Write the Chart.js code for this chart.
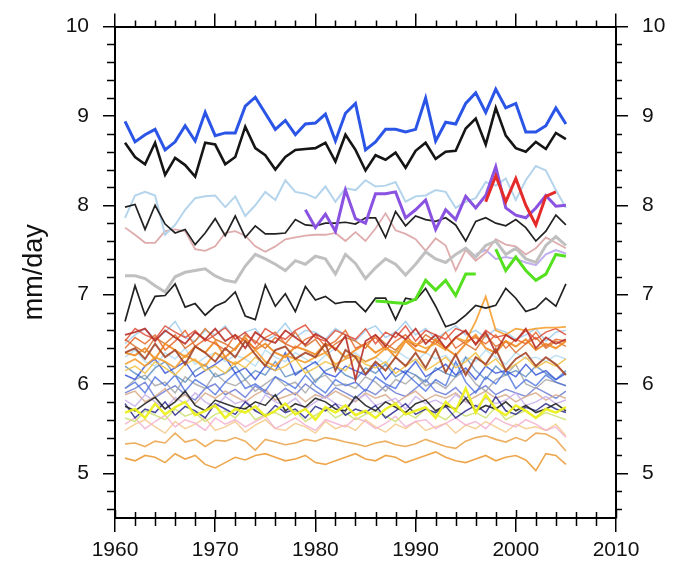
<!DOCTYPE html>
<html><head><meta charset="utf-8">
<script src="https://cdn.jsdelivr.net/npm/chart.js@4/dist/chart.umd.min.js"></script>
<style>html,body{margin:0;padding:0;background:#fff;}canvas{display:block;}</style>
</head><body>
<canvas id="c" width="676" height="567"></canvas>
<script>
// ---------- data (mm/day), years 1961-2005 unless noted ----------
const xTicks = [1960, 1970, 1980, 1990, 2000, 2010];
const yTicks = [5, 6, 7, 8, 9, 10];

const blueTop = [8.94,8.71,8.79,8.85,8.62,8.71,8.89,8.72,9.04,8.78,
 8.81,8.81,9.11,9.21,9.03,8.85,8.95,8.79,8.91,8.92,
 9.02,8.72,9.03,9.14,8.62,8.71,8.85,8.85,8.82,8.85,
 9.20,8.72,8.93,8.91,9.14,9.26,9.04,9.30,9.09,9.14,
 8.82,8.82,8.89,9.09,8.91];
const blackTop = [8.70,8.54,8.46,8.70,8.34,8.53,8.45,8.32,8.70,8.68,
 8.46,8.54,8.88,8.64,8.56,8.40,8.54,8.62,8.63,8.64,
 8.70,8.49,8.79,8.62,8.39,8.56,8.51,8.59,8.42,8.61,
 8.70,8.52,8.60,8.61,8.86,8.97,8.68,9.09,8.78,8.64,
 8.60,8.71,8.63,8.81,8.74];
const lightBlue = [7.86,8.11,8.15,8.11,7.67,7.78,7.95,8.08,8.10,8.11,
 7.98,8.10,7.88,8.00,8.15,8.06,8.28,8.15,8.13,8.08,
 8.21,8.04,8.19,8.17,8.28,8.21,8.22,8.26,8.04,8.10,
 8.11,8.17,8.15,7.97,8.04,8.08,8.26,8.22,8.30,8.06,
 8.28,8.44,8.39,8.17,7.97];
const blackMid = [7.98,8.01,7.73,8.00,7.79,7.69,7.73,7.56,7.69,7.85,
 7.66,7.88,7.64,7.77,7.68,7.68,7.69,7.84,7.78,7.77,
 7.80,7.80,7.81,7.79,7.86,7.86,7.64,7.93,7.77,7.88,
 7.84,7.82,7.86,7.78,7.60,7.82,7.86,7.80,7.77,7.84,
 7.75,7.60,7.71,7.89,7.78];
const pinkRose = [7.75,7.67,7.58,7.58,7.71,7.73,7.71,7.51,7.49,7.54,
 7.69,7.71,7.66,7.54,7.48,7.54,7.62,7.64,7.66,7.67,
 7.67,7.69,7.60,7.70,7.60,7.74,7.91,7.72,7.68,7.62,
 7.49,7.63,7.55,7.27,7.50,7.38,7.47,7.62,7.56,7.54,
 7.45,7.52,7.64,7.58,7.52];
const grayThick = [7.21,7.21,7.18,7.10,7.03,7.20,7.25,7.27,7.29,7.21,
 7.16,7.14,7.32,7.45,7.40,7.34,7.27,7.38,7.34,7.43,
 7.40,7.23,7.45,7.35,7.18,7.30,7.40,7.34,7.22,7.34,
 7.48,7.40,7.36,7.45,7.52,7.42,7.55,7.60,7.45,7.52,
 7.40,7.36,7.55,7.65,7.55];
const blackLow = [6.70,7.10,6.77,6.98,6.99,7.12,6.86,6.90,6.77,6.87,
 6.92,7.03,6.76,6.72,7.11,6.87,7.01,6.81,7.09,6.94,
 6.98,6.90,6.92,6.92,6.81,6.96,6.96,6.72,6.96,6.94,
 7.07,6.87,6.64,6.68,6.77,6.88,6.85,6.88,7.07,6.96,
 6.81,6.85,6.96,6.87,7.12];
// 1979-2005
const purple = [7.95,7.75,7.90,7.71,8.17,7.85,7.80,8.13,8.13,8.15,
 7.86,7.95,8.06,7.73,7.95,7.84,8.10,7.97,8.11,8.43,
 7.97,7.89,7.86,7.97,8.11,7.99,8.00];
// 1997-2004
const red = [8.04,8.33,8.04,8.30,8.00,7.78,8.10,8.15];
// 1986-2005 (gap in 1997)
const green = [6.93,6.92,6.91,6.90,6.95,7.16,7.05,7.16,6.99,7.23,
 7.23,null,7.51,7.27,7.42,7.27,7.16,7.23,7.45,7.43];
// 1996-2005
const lavender = [7.45,7.50,7.40,7.42,7.40,7.36,7.33,7.45,7.50,7.46];

// dense bundle 1961-2005
const darkRed = [6.55,6.58,6.62,6.48,6.60,6.52,6.45,6.58,6.50,6.62,
 6.48,6.55,6.40,6.58,6.50,6.46,6.60,6.52,6.44,6.56,
 6.50,6.38,6.54,6.05,6.48,6.55,6.42,6.58,6.50,6.62,
 6.45,6.55,6.40,6.52,6.60,6.44,6.58,6.35,6.55,6.48,
 6.62,6.40,6.52,6.45,6.50];
const brown = [6.35,6.40,6.28,6.45,6.30,6.38,6.22,6.42,6.35,6.25,
 6.40,6.30,6.48,6.33,6.20,6.38,6.42,6.28,6.35,6.30,
 6.45,6.15,6.38,6.30,6.11,6.25,6.15,6.30,6.20,6.35,
 6.18,6.39,6.13,6.33,6.10,6.30,6.22,6.39,6.15,6.28,
 6.35,6.20,6.30,6.22,6.10];
const redThin = [6.48,6.62,6.55,6.50,6.65,6.58,6.52,6.60,6.48,6.55,
 6.63,6.50,6.58,6.45,6.62,6.55,6.50,6.60,6.66,6.52,
 6.48,6.60,6.55,6.50,6.62,6.45,6.58,6.52,6.65,6.48,
 6.60,6.55,6.50,6.62,6.58,6.45,6.60,6.52,6.55,6.48,
 6.60,6.50,6.58,6.62,6.55];
const orangeRed = [6.40,6.52,6.45,6.55,6.38,6.48,6.60,6.42,6.50,6.45,
 6.38,6.55,6.48,6.40,6.52,6.58,6.45,6.40,6.50,6.55,
 6.42,6.48,6.60,6.40,6.45,6.52,6.38,6.48,6.55,6.42,
 6.50,6.45,6.58,6.40,6.48,6.52,6.45,6.55,6.40,6.50,
 6.45,6.58,6.42,6.50,6.48];
const orange = [6.35,6.32,6.40,6.28,6.45,6.38,6.30,6.42,6.35,6.48,
 6.30,6.40,6.52,6.38,6.45,6.35,6.30,6.42,6.38,6.33,
 6.45,6.40,6.30,6.38,6.45,6.35,6.42,6.30,6.48,6.38,
 6.35,6.50,6.40,6.32,6.45,6.55,6.40,6.35,6.48,6.42,
 6.50,6.38,6.45,6.40,6.48];
const darkOrange = [6.50,6.42,6.35,6.52,6.45,6.55,6.40,6.48,6.62,6.50,
 6.45,6.38,6.55,6.48,6.40,6.52,6.45,6.58,6.42,6.50,
 6.35,6.45,6.52,6.48,6.40,6.55,6.45,6.38,6.50,6.42,
 6.55,6.48,6.40,6.52,6.45,6.38,6.55,6.42,6.48,6.35,
 6.45,6.52,6.40,6.48,6.42];
const lightOrange = [6.22,6.28,6.20,6.30,6.25,6.18,6.32,6.26,6.20,6.35,
 6.28,6.22,6.30,6.38,6.25,6.20,6.32,6.28,6.24,6.30,
 6.35,6.22,6.28,6.32,6.25,6.30,6.40,6.35,6.50,6.45,
 6.40,6.45,6.38,6.52,6.48,6.70,6.98,6.60,6.55,6.62,
 6.60,6.62,6.63,6.63,6.64];
const yellowOrange = [6.15,6.20,6.12,6.25,6.18,6.10,6.22,6.28,6.15,6.20,
 6.12,6.25,6.18,6.30,6.22,6.15,6.20,6.28,6.12,6.18,
 6.25,6.20,6.15,6.30,6.22,6.18,6.25,6.12,6.20,6.28,
 6.15,6.22,6.30,6.18,6.25,6.35,6.20,6.28,6.15,6.22,
 6.30,6.18,6.25,6.20,6.28];
const skyBlue = [6.45,6.55,6.62,6.50,6.58,6.70,6.52,6.48,6.60,6.55,
 6.65,6.50,6.58,6.62,6.48,6.55,6.68,6.52,6.60,6.58,
 6.50,6.62,6.55,6.48,6.60,6.65,6.52,6.58,6.70,6.55,
 6.62,6.50,6.58,6.65,6.55,6.60,6.52,6.62,6.58,6.50,
 6.55,6.62,6.48,6.58,6.60];
const blue = [6.10,6.05,6.20,6.28,6.12,6.18,6.25,6.08,6.15,6.22,
 6.30,6.12,6.18,6.05,6.20,6.15,6.35,6.10,6.18,6.25,
 6.12,6.08,6.20,6.15,6.10,6.22,6.05,6.18,6.12,6.25,
 6.08,6.15,6.22,6.10,6.18,6.05,6.20,6.12,6.15,6.08,
 6.22,6.10,6.15,6.05,6.12];
const royalBlue = [5.95,6.02,5.90,6.08,5.98,6.10,5.92,6.05,5.98,5.88,
 6.02,6.12,5.95,6.00,5.92,6.08,6.02,5.95,6.10,5.98,
 5.90,6.05,5.98,6.02,5.92,6.08,6.00,5.95,6.12,6.02,
 5.92,6.05,5.98,6.25,6.02,5.90,6.08,6.00,6.15,5.95,
 6.05,5.98,6.10,6.02,5.98];
const steelBlue = [6.20,6.12,6.05,6.18,6.25,6.10,6.02,6.15,6.22,6.08,
 6.12,6.20,6.05,6.15,6.10,6.25,6.08,6.12,6.18,6.02,
 6.15,6.20,6.10,6.05,6.18,6.12,6.22,6.08,6.15,6.10,
 6.02,6.18,6.12,6.08,6.30,6.15,6.05,6.20,6.10,6.15,
 6.08,6.20,6.12,6.05,6.15];
const paleSky = [6.30,6.38,6.25,6.20,6.35,6.28,6.40,6.22,6.30,6.35,
 6.25,6.32,6.28,6.20,6.38,6.30,6.25,6.35,6.28,6.22,
 6.32,6.40,6.28,6.35,6.25,6.30,6.22,6.38,6.30,6.25,
 6.35,6.28,6.32,6.20,6.30,6.25,6.38,6.30,6.22,6.35,
 6.28,6.30,6.25,6.32,6.28];
const grayThin = [5.95,6.05,6.10,5.98,6.02,5.90,6.08,6.00,5.95,6.12,
 6.02,5.98,6.05,5.92,6.00,6.08,5.98,6.02,5.90,6.05,
 6.10,5.98,6.00,5.95,6.08,6.02,5.92,6.05,6.00,6.10,
 5.98,6.02,5.95,6.08,6.15,6.00,5.92,6.05,6.10,6.22,
 6.00,5.95,6.05,6.02,5.98];
const blackBottom = [5.75,5.70,5.78,5.85,5.72,5.80,5.92,5.76,5.70,5.82,
 5.78,5.74,5.72,5.80,5.76,5.88,5.70,5.78,5.74,5.84,
 5.80,5.72,5.70,5.86,5.76,5.70,5.80,5.74,5.68,5.78,
 5.82,5.70,5.76,5.72,5.84,5.70,5.76,5.72,5.80,5.70,
 5.76,5.68,5.72,5.78,5.70];
const navy = [5.78,5.62,5.72,5.68,5.80,5.65,5.75,5.70,5.62,5.78,
 5.72,5.66,5.80,5.70,5.64,5.76,5.68,5.72,5.62,5.75,
 5.70,5.78,5.65,5.72,5.68,5.76,5.62,5.70,5.78,5.66,
 5.72,5.68,5.75,5.62,5.70,5.76,5.68,5.86,5.70,5.66,
 5.74,5.70,5.78,5.72,5.68];
const yellow = [5.68,5.72,5.62,5.78,5.66,5.74,5.80,5.65,5.70,5.76,
 5.62,5.72,5.68,5.75,5.64,5.70,5.78,5.66,5.72,5.60,
 5.74,5.68,5.76,5.65,5.70,5.62,5.72,5.78,5.66,5.70,
 5.74,5.62,5.80,5.70,5.95,5.68,5.88,5.72,5.65,5.76,
 5.70,5.62,5.72,5.68,5.74];
const yellowGreen = [5.62,5.58,5.70,5.65,5.60,5.72,5.64,5.68,5.58,5.66,
 5.70,5.62,5.74,5.60,5.66,5.68,5.62,5.70,5.58,5.65,
 5.72,5.62,5.68,5.60,5.66,5.70,5.64,5.58,5.68,5.62,
 5.72,5.66,5.60,5.70,5.64,5.68,5.62,5.74,5.60,5.66,
 5.70,5.62,5.68,5.64,5.60];
const pink = [5.55,5.62,5.50,5.58,5.65,5.52,5.60,5.56,5.48,5.62,
 5.55,5.60,5.52,5.58,5.64,5.50,5.56,5.62,5.54,5.48,
 5.60,5.56,5.52,5.62,5.58,5.50,5.56,5.64,5.52,5.58,
 5.60,5.50,5.56,5.62,5.54,5.58,5.50,5.62,5.56,5.52,
 5.60,5.55,5.48,5.52,5.40];
const lilac = [5.82,5.75,5.88,5.80,5.72,5.85,5.78,5.90,5.80,5.74,
 5.86,5.78,5.82,5.70,5.88,5.80,5.76,5.84,5.72,5.80,
 5.86,5.78,5.74,5.82,5.88,5.76,5.80,5.84,5.72,5.86,
 5.78,5.82,5.76,5.88,5.80,5.74,5.84,5.78,5.82,5.90,
 5.76,5.80,5.86,5.78,5.82];
const tan = [5.88,5.92,5.80,5.86,5.95,5.82,5.88,5.78,5.90,5.84,
 5.92,5.86,5.80,5.88,5.94,5.82,5.86,5.90,5.80,5.88,
 5.84,5.92,5.86,5.80,5.90,5.84,5.88,5.78,5.86,5.92,
 5.82,5.88,5.84,5.90,5.80,5.86,5.92,5.84,5.88,5.80,
 5.86,5.90,5.82,5.88,5.84];
const mediumBlue = [5.90,5.95,6.02,5.85,5.92,5.98,5.88,5.82,5.95,6.00,
 5.88,5.94,5.85,5.98,5.90,5.86,5.95,5.88,6.00,5.92,
 5.85,5.96,5.90,5.84,5.94,5.88,5.98,5.90,5.86,5.95,
 6.05,5.92,5.88,5.96,5.84,5.92,5.98,5.88,5.94,5.90,
 5.86,5.96,5.90,5.84,5.92];
const paleOrange = [5.48,5.55,5.60,5.52,5.45,5.58,5.50,5.55,5.62,5.48,
 5.52,5.58,5.46,5.54,5.60,5.50,5.48,5.56,5.52,5.45,
 5.58,5.50,5.54,5.48,5.60,5.52,5.46,5.55,5.50,5.58,
 5.48,5.52,5.56,5.45,5.54,5.50,5.58,5.52,5.46,5.55,
 5.50,5.52,5.48,5.55,5.42];
const orangeMid = [5.33,5.34,5.30,5.36,5.34,5.45,5.35,5.38,5.30,5.37,
 5.36,5.40,5.36,5.26,5.38,5.35,5.32,5.34,5.38,5.36,
 5.40,5.38,5.35,5.33,5.30,5.34,5.36,5.32,5.30,5.33,
 5.38,5.34,5.30,5.28,5.36,5.40,5.42,5.38,5.35,5.40,
 5.36,5.45,5.44,5.38,5.25];
const orangeLow = [5.17,5.14,5.20,5.18,5.12,5.22,5.16,5.20,5.10,5.06,
 5.12,5.18,5.15,5.20,5.22,5.18,5.14,5.16,5.20,5.12,
 5.10,5.14,5.18,5.22,5.16,5.14,5.20,5.18,5.12,5.16,
 5.20,5.24,5.18,5.14,5.12,5.16,5.20,5.14,5.18,5.20,
 5.15,5.03,5.22,5.20,5.10];

// ---------- series table (first = drawn on top) ----------
const seriesDefs = [
  {vals: blueTop,    start: 1961, color: '#2a55e6', w: 3},
  {vals: blackTop,   start: 1961, color: '#151515', w: 2.6},
  {vals: red,        start: 1997, color: '#e52a2a', w: 3},
  {vals: purple,     start: 1979, color: '#8a52e0', w: 3},
  {vals: green,      start: 1986, color: '#55e020', w: 3},
  {vals: blackMid,   start: 1961, color: '#222222', w: 1.7},
  {vals: blackLow,   start: 1961, color: '#222222', w: 1.7},
  {vals: lightBlue,  start: 1961, color: '#b4d4ec', w: 2},
  {vals: grayThick,  start: 1961, color: '#c0c0c0', w: 3},
  {vals: pinkRose,   start: 1961, color: '#deacac', w: 1.8},
  {vals: lavender,   start: 1996, color: '#c0aeee', w: 2},
  {vals: yellow,       start: 1961, color: 'rgba(236,240,30,0.95)', w: 2.5},
  {vals: blackBottom,  start: 1961, color: 'rgba(35,35,35,0.9)', w: 1.6},
  {vals: navy,         start: 1961, color: 'rgba(40,40,140,0.85)', w: 1.5},
  {vals: brown,        start: 1961, color: 'rgba(165,70,40,0.9)', w: 2},
  {vals: darkRed,      start: 1961, color: 'rgba(184,48,40,0.9)', w: 1.8},
  {vals: lightOrange,  start: 1961, color: 'rgba(245,160,48,0.9)', w: 1.8},
  {vals: redThin,      start: 1961, color: 'rgba(222,74,53,0.85)', w: 1.5},
  {vals: orangeRed,    start: 1961, color: 'rgba(232,106,44,0.85)', w: 1.5},
  {vals: orange,       start: 1961, color: 'rgba(240,140,34,0.9)', w: 2},
  {vals: darkOrange,   start: 1961, color: 'rgba(216,112,42,0.85)', w: 1.5},
  {vals: yellowOrange, start: 1961, color: 'rgba(242,192,64,0.85)', w: 1.5},
  {vals: skyBlue,      start: 1961, color: 'rgba(156,203,235,0.85)', w: 1.5},
  {vals: blue,         start: 1961, color: 'rgba(47,79,216,0.8)', w: 1.5},
  {vals: royalBlue,    start: 1961, color: 'rgba(74,112,224,0.8)', w: 1.5},
  {vals: steelBlue,    start: 1961, color: 'rgba(90,140,192,0.8)', w: 1.5},
  {vals: paleSky,      start: 1961, color: 'rgba(180,220,242,0.85)', w: 1.5},
  {vals: grayThin,     start: 1961, color: 'rgba(168,168,168,0.85)', w: 1.5},
  {vals: yellowGreen,  start: 1961, color: 'rgba(204,224,112,0.85)', w: 1.5},
  {vals: pink,         start: 1961, color: 'rgba(242,176,208,0.85)', w: 1.5},
  {vals: lilac,        start: 1961, color: 'rgba(200,176,236,0.85)', w: 1.5},
  {vals: tan,          start: 1961, color: 'rgba(216,170,136,0.85)', w: 1.5},
  {vals: mediumBlue,   start: 1961, color: 'rgba(98,114,210,0.8)', w: 1.5},
  {vals: paleOrange,   start: 1961, color: 'rgba(245,200,136,0.85)', w: 1.5},
  {vals: orangeMid,    start: 1961, color: 'rgba(235,166,80,0.9)', w: 1.6},
  {vals: orangeLow,    start: 1961, color: 'rgba(235,156,56,0.9)', w: 1.6}
];

const datasets = seriesDefs.map((s, k) => ({
  label: 's' + k,
  data: s.vals.map((v, i) => ({x: s.start + i, y: v})),
  borderColor: s.color,
  borderWidth: s.w,
  pointRadius: 0,
  tension: 0,
  spanGaps: false,
  fill: false
}));

const FONT = "'Liberation Sans', Arial, Helvetica, sans-serif";

const minorTicks = {
  id: 'minorTicks',
  afterDraw(chart) {
    const {ctx, chartArea: a, scales} = chart;
    ctx.save();
    ctx.strokeStyle = '#000';
    ctx.lineWidth = 1.5;
    ctx.beginPath();
    for (let yr = 1962; yr < 2010; yr += 2) {
      if (yr % 10 === 0) continue;
      const px = Math.round(scales.x.getPixelForValue(yr)) + 0.5;
      ctx.moveTo(px, a.top); ctx.lineTo(px, a.top - 6);
      ctx.moveTo(px, a.bottom - 6); ctx.lineTo(px, a.bottom + 8);
    }
    for (const yr of xTicks) {
      const px = Math.round(scales.x.getPixelForValue(yr)) + 0.5;
      ctx.moveTo(px, a.bottom); ctx.lineTo(px, a.bottom - 8);
    }
    for (let k = 23; k < 50; k++) {
      if (k % 5 === 0) continue;
      const py = Math.round(scales.y.getPixelForValue(k * 0.2)) + 0.5;
      ctx.moveTo(a.left, py); ctx.lineTo(a.left - 8, py);
      ctx.moveTo(a.right, py); ctx.lineTo(a.right + 6, py);
    }
    ctx.stroke();
    ctx.restore();
  }
};

const gridOpts = (len) => ({drawOnChartArea: false, drawTicks: true, tickLength: len, color: '#000', lineWidth: 1.5});
const borderOpts = {display: true, color: '#000', width: 2};
const tickFont = {family: FONT, size: 21};

new Chart(document.getElementById('c'), {
  type: 'line',
  data: {datasets},
  options: {
    responsive: false,
    animation: false,
    layout: {padding: 0},
    plugins: {legend: {display: false}, tooltip: {enabled: false}},
    scales: {
      x: {
        type: 'linear', position: 'bottom', min: 1960, max: 2010,
        afterBuildTicks: s => { s.ticks = xTicks.map(v => ({value: v})); },
        ticks: {font: tickFont, color: '#111', padding: 6, maxRotation: 0, callback: v => String(v)},
        grid: gridOpts(14), border: borderOpts,
        afterFit: s => { s.height = 49; }
      },
      xTop: {
        type: 'linear', position: 'top', min: 1960, max: 2010,
        afterBuildTicks: s => { s.ticks = xTicks.map(v => ({value: v})); },
        ticks: {font: tickFont, callback: () => ''},
        grid: gridOpts(13), border: borderOpts,
        afterFit: s => { s.height = 19; }
      },
      y: {
        type: 'linear', position: 'left', min: 4.5, max: 10,
        afterBuildTicks: s => { s.ticks = yTicks.map(v => ({value: v})); },
        ticks: {font: tickFont, color: '#111', padding: 14, callback: v => String(v)},
        grid: gridOpts(12), border: borderOpts,
        title: {display: true, text: 'mm/day', color: '#111', font: {family: FONT, size: 27}, padding: {top: 18, bottom: 0}},
        afterFit: s => { s.width = 115; }
      },
      yRight: {
        type: 'linear', position: 'right', min: 4.5, max: 10,
        afterBuildTicks: s => { s.ticks = yTicks.map(v => ({value: v})); },
        ticks: {font: tickFont, color: '#111', padding: 14, callback: v => String(v)},
        grid: gridOpts(12), border: borderOpts,
        afterFit: s => { s.width = 60; }
      }
    }
  },
  plugins: [minorTicks]
});
</script>
</body></html>
